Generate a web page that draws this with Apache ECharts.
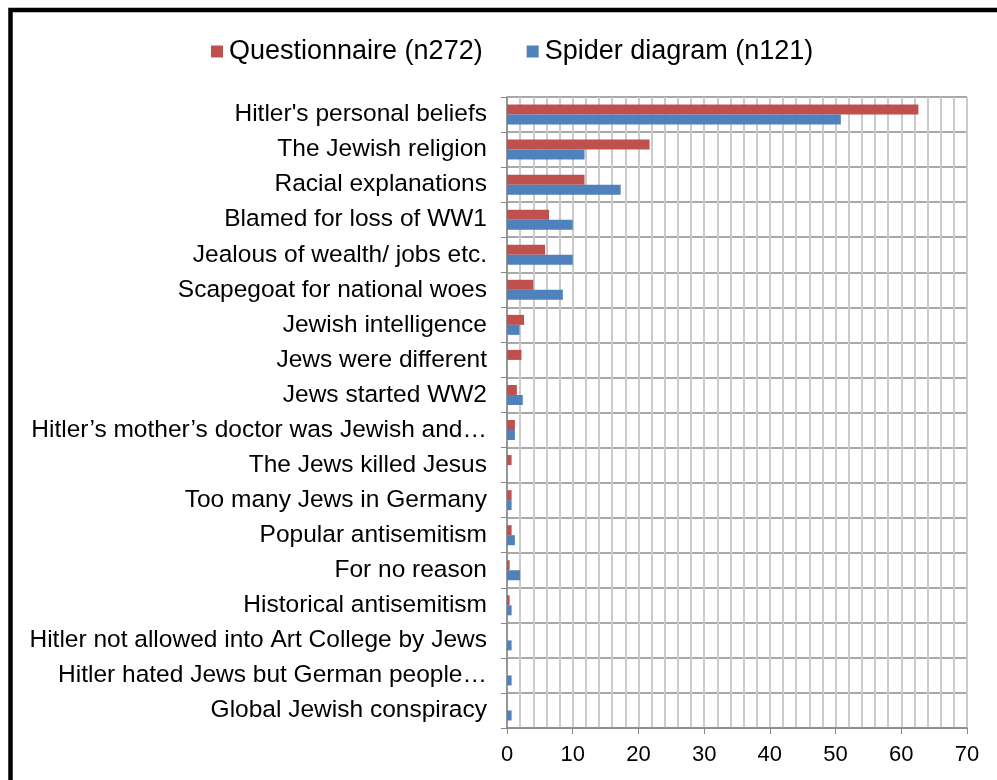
<!DOCTYPE html>
<html>
<head>
<meta charset="utf-8">
<script src="https://cdn.jsdelivr.net/npm/echarts@6/dist/echarts.min.js"></script>
<style>
  html, body { margin: 0; padding: 0; background: #fff; }
  #chart { width: 997px; height: 780px; }
</style>
</head>
<body>
<div id="chart"></div>
<script>
// Reasons given for Hitler's hatred of the Jews (%)
const categories = [
  "Hitler's personal beliefs",
  "The Jewish religion",
  "Racial explanations",
  "Blamed for loss of WW1",
  "Jealous of wealth/ jobs etc.",
  "Scapegoat for national woes",
  "Jewish intelligence",
  "Jews were different",
  "Jews started WW2",
  "Hitler’s mother’s doctor was Jewish and…",
  "The Jews killed Jesus",
  "Too many Jews in Germany",
  "Popular antisemitism",
  "For no reason",
  "Historical antisemitism",
  "Hitler not allowed into Art College by Jews",
  "Hitler hated Jews but German people…",
  "Global Jewish conspiracy"
];
const questionnaire = [62.6, 21.7, 11.8, 6.4, 5.8, 4.0, 2.6, 2.2, 1.5, 1.2, 0.7, 0.7, 0.7, 0.4, 0.4, 0, 0, 0];
const spiderDiagram = [50.8, 11.8, 17.3, 10.0, 10.0, 8.5, 1.9, 0, 2.4, 1.2, 0, 0.7, 1.2, 2.0, 0.7, 0.7, 0.7, 0.7];
const seriesNames = ['Questionnaire (n272)', 'Spider diagram (n121)'];
const xTicks = { min: 0, max: 70, interval: 10 };

const chart = echarts.init(document.getElementById('chart'), null, { renderer: 'canvas' });
const font = 'Liberation Sans, Arial, sans-serif';

chart.setOption({
  backgroundColor: '#fff',
  animation: false,
  textStyle: { fontFamily: font },
  legend: {
    data: seriesNames,
    top: 33,
    left: 206,
    icon: 'rect',
    itemWidth: 12,
    itemHeight: 12,
    itemGap: 44,
    textStyle: { fontSize: 27, color: '#000', fontFamily: font, padding: [0, 0, 0, 1] }
  },
  grid: { left: 507, right: 30, top: 97, bottom: 52, containLabel: false },
  xAxis: {
    type: 'value',
    min: xTicks.min,
    max: xTicks.max,
    interval: xTicks.interval,
    axisLine: { show: true, lineStyle: { color: '#868686', width: 1.5 } },
    axisTick: { show: true, length: 6, lineStyle: { color: '#868686' } },
    axisLabel: { fontSize: 22, color: '#000', margin: 16, fontFamily: font },
    splitLine: { show: true, lineStyle: { color: '#CBCBCB', width: 2 } },
    minorTick: { show: false, splitNumber: 5 },
    minorSplitLine: { show: true, lineStyle: { color: '#CBCBCB', width: 2 } }
  },
  yAxis: {
    type: 'category',
    data: categories,
    inverse: true,
    axisLine: { show: true, lineStyle: { color: '#868686', width: 1.5 } },
    axisTick: { show: true, length: 6, lineStyle: { color: '#868686' } },
    axisLabel: { fontSize: 24.5, color: '#000', margin: 20, fontFamily: font },
    splitLine: { show: true, lineStyle: { color: '#8C8C8C', width: 1.5 } }
  },
  series: [
    {
      name: seriesNames[0],
      type: 'bar',
      data: questionnaire,
      barWidth: 10,
      barGap: '0%',
      itemStyle: { color: '#C0504D' }
    },
    {
      name: seriesNames[1],
      type: 'bar',
      data: spiderDiagram,
      barWidth: 10,
      barGap: '0%',
      itemStyle: { color: '#4F81BD' }
    }
  ],
  graphic: [
    {
      type: 'rect',
      shape: { x: 10.5, y: 10, width: 1100, height: 900 },
      style: { fill: 'none', stroke: '#000', lineWidth: 4.5 },
      silent: true
    }
  ]
});
</script>
</body>
</html>
